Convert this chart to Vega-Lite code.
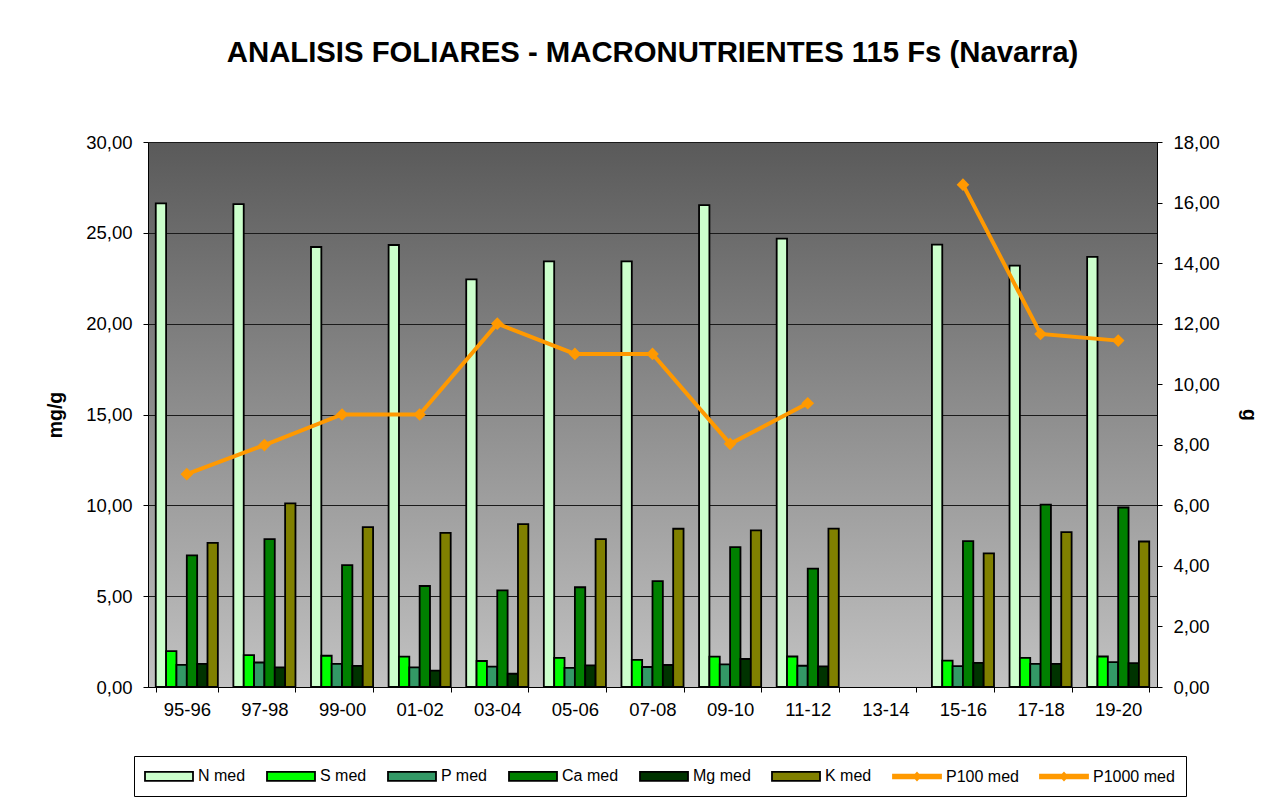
{
  "$schema": "https://vega.github.io/schema/vega-lite/v6.json",
  "width": 1009,
  "height": 545,
  "autosize": "none",
  "padding": {"left": 148, "top": 142, "right": 125, "bottom": 115},
  "background": "white",
  "title": {
    "text": "ANALISIS FOLIARES - MACRONUTRIENTES 115 Fs (Navarra)",
    "fontSize": 29.3,
    "fontWeight": "bold",
    "font": "Liberation Sans",
    "color": "black",
    "anchor": "middle",
    "baseline": "alphabetic",
    "offset": 42
  },
  "datasets": {
    "bars": [
      {"t": "95-96", "s": "N med", "v": 26.62}, {"t": "95-96", "s": "S med", "v": 1.97}, {"t": "95-96", "s": "P med", "v": 1.22}, {"t": "95-96", "s": "Ca med", "v": 7.25}, {"t": "95-96", "s": "Mg med", "v": 1.27}, {"t": "95-96", "s": "K med", "v": 7.93},
      {"t": "97-98", "s": "N med", "v": 26.58}, {"t": "97-98", "s": "S med", "v": 1.76}, {"t": "97-98", "s": "P med", "v": 1.35}, {"t": "97-98", "s": "Ca med", "v": 8.14}, {"t": "97-98", "s": "Mg med", "v": 1.08}, {"t": "97-98", "s": "K med", "v": 10.11},
      {"t": "99-00", "s": "N med", "v": 24.22}, {"t": "99-00", "s": "S med", "v": 1.72}, {"t": "99-00", "s": "P med", "v": 1.27}, {"t": "99-00", "s": "Ca med", "v": 6.71}, {"t": "99-00", "s": "Mg med", "v": 1.16}, {"t": "99-00", "s": "K med", "v": 8.80},
      {"t": "01-02", "s": "N med", "v": 24.33}, {"t": "01-02", "s": "S med", "v": 1.67}, {"t": "01-02", "s": "P med", "v": 1.08}, {"t": "01-02", "s": "Ca med", "v": 5.56}, {"t": "01-02", "s": "Mg med", "v": 0.90}, {"t": "01-02", "s": "K med", "v": 8.48},
      {"t": "03-04", "s": "N med", "v": 22.44}, {"t": "03-04", "s": "S med", "v": 1.43}, {"t": "03-04", "s": "P med", "v": 1.12}, {"t": "03-04", "s": "Ca med", "v": 5.32}, {"t": "03-04", "s": "Mg med", "v": 0.73}, {"t": "03-04", "s": "K med", "v": 8.97},
      {"t": "05-06", "s": "N med", "v": 23.43}, {"t": "05-06", "s": "S med", "v": 1.60}, {"t": "05-06", "s": "P med", "v": 1.05}, {"t": "05-06", "s": "Ca med", "v": 5.49}, {"t": "05-06", "s": "Mg med", "v": 1.19}, {"t": "05-06", "s": "K med", "v": 8.14},
      {"t": "07-08", "s": "N med", "v": 23.43}, {"t": "07-08", "s": "S med", "v": 1.49}, {"t": "07-08", "s": "P med", "v": 1.10}, {"t": "07-08", "s": "Ca med", "v": 5.83}, {"t": "07-08", "s": "Mg med", "v": 1.21}, {"t": "07-08", "s": "K med", "v": 8.71},
      {"t": "09-10", "s": "N med", "v": 26.53}, {"t": "09-10", "s": "S med", "v": 1.67}, {"t": "09-10", "s": "P med", "v": 1.25}, {"t": "09-10", "s": "Ca med", "v": 7.70}, {"t": "09-10", "s": "Mg med", "v": 1.54}, {"t": "09-10", "s": "K med", "v": 8.62},
      {"t": "11-12", "s": "N med", "v": 24.68}, {"t": "11-12", "s": "S med", "v": 1.68}, {"t": "11-12", "s": "P med", "v": 1.17}, {"t": "11-12", "s": "Ca med", "v": 6.52}, {"t": "11-12", "s": "Mg med", "v": 1.14}, {"t": "11-12", "s": "K med", "v": 8.72},
      {"t": "15-16", "s": "N med", "v": 24.35}, {"t": "15-16", "s": "S med", "v": 1.45}, {"t": "15-16", "s": "P med", "v": 1.15}, {"t": "15-16", "s": "Ca med", "v": 8.03}, {"t": "15-16", "s": "Mg med", "v": 1.33}, {"t": "15-16", "s": "K med", "v": 7.36},
      {"t": "17-18", "s": "N med", "v": 23.19}, {"t": "17-18", "s": "S med", "v": 1.60}, {"t": "17-18", "s": "P med", "v": 1.27}, {"t": "17-18", "s": "Ca med", "v": 10.04}, {"t": "17-18", "s": "Mg med", "v": 1.27}, {"t": "17-18", "s": "K med", "v": 8.52},
      {"t": "19-20", "s": "N med", "v": 23.68}, {"t": "19-20", "s": "S med", "v": 1.68}, {"t": "19-20", "s": "P med", "v": 1.37}, {"t": "19-20", "s": "Ca med", "v": 9.88}, {"t": "19-20", "s": "Mg med", "v": 1.31}, {"t": "19-20", "s": "K med", "v": 8.01}
    ],
    "lines": [
      {"t": "95-96", "s": "P100 med", "v": 7.03},
      {"t": "97-98", "s": "P100 med", "v": 7.99},
      {"t": "99-00", "s": "P100 med", "v": 9.0},
      {"t": "01-02", "s": "P100 med", "v": 9.0},
      {"t": "03-04", "s": "P100 med", "v": 12.0},
      {"t": "05-06", "s": "P100 med", "v": 11.0},
      {"t": "07-08", "s": "P100 med", "v": 11.0},
      {"t": "09-10", "s": "P100 med", "v": 8.03},
      {"t": "11-12", "s": "P100 med", "v": 9.37},
      {"t": "15-16", "s": "P1000 med", "v": 16.59},
      {"t": "17-18", "s": "P1000 med", "v": 11.66},
      {"t": "19-20", "s": "P1000 med", "v": 11.44}
    ]
  },
  "layer": [
    {
      "data": {"name": "bars"},
      "mark": {"type": "bar", "stroke": "#000000", "strokeWidth": 1.8, "strokeOpacity": 1, "strokeJoin": "miter"},
      "encoding": {
        "x": {
          "field": "t", "type": "nominal", "title": null,
          "scale": {"domain": ["95-96", "97-98", "99-00", "01-02", "03-04", "05-06", "07-08", "09-10", "11-12", "13-14", "15-16", "17-18", "19-20"], "paddingInner": 0.2, "paddingOuter": 0.1},
          "axis": {"tickBand": "extent", "labelAngle": 0, "labelFontSize": 18.5, "labelColor": "black", "tickColor": "black", "domainColor": "black", "tickSize": 5, "labelPadding": 8, "grid": false}
        },
        "xOffset": {"field": "s", "type": "nominal", "scale": {"domain": ["N med", "S med", "P med", "Ca med", "Mg med", "K med"]}},
        "y": {
          "field": "v", "type": "quantitative", "title": "mg/g",
          "scale": {"domain": [0, 30]},
          "axis": {"values": [0, 5, 10, 15, 20, 25, 30], "format": ".2f", "grid": true, "gridColor": "#1a1a1a", "gridWidth": 1, "tickSize": 5, "tickColor": "black", "domainColor": "black", "labelPadding": 11, "labelFontSize": 18.5, "labelColor": "black", "titleFontSize": 19.5, "titleFontWeight": "bold", "titleColor": "black", "titlePadding": 20}
        },
        "fill": {
          "field": "s", "type": "nominal", "title": null,
          "scale": {"domain": ["N med", "S med", "P med", "Ca med", "Mg med", "K med", "P100 med", "P1000 med"], "range": ["#CCFFCC", "#00FF00", "#339966", "#008000", "#003300", "#808000", "#FF9900", "#FF9900"]},
          "legend": {
            "orient": "none", "legendX": -14, "legendY": 614, "direction": "horizontal", "columns": 8,
            "padding": 11, "strokeColor": "black", "fillColor": "white",
            "labelFontSize": 16, "labelColor": "black", "columnPadding": 17,
            "symbolSize": 256, "symbolType": "M-1.125,-0.5625H4.875V0.5625H-1.125Z", "labelOffset": 35,
            "symbolStrokeColor": "black", "symbolStrokeWidth": 1.8,
            "encode": {
              "symbols": {
                "update": {
                  "shape": [
                    {"test": "datum.value == 'P100 med' || datum.value == 'P1000 med'", "value": "M-1.125,-0.22H4.875V0.22H-1.125Z M1.875,-0.45L2.3,0L1.875,0.45L1.45,0Z"},
                    {"value": "M-1.125,-0.5625H4.875V0.5625H-1.125Z"}
                  ],
                  "stroke": [
                    {"test": "datum.value == 'P100 med' || datum.value == 'P1000 med'", "value": "#FF9900"},
                    {"value": "#000000"}
                  ],
                  "fill": {"scale": "fill", "field": "value"},
                  "opacity": {"value": 1},
                  "fillOpacity": {"value": 1},
                  "strokeOpacity": {"value": 1},
                  "strokeWidth": {"value": 1.8}
                }
              }
            }
          }
        }
      }
    },
    {
      "data": {"name": "lines"},
      "mark": {"type": "line", "strokeWidth": 4, "color": "#FF9900", "point": {"shape": "diamond", "size": 160, "filled": true, "opacity": 1, "color": "#FF9900"}},
      "encoding": {
        "x": {"field": "t", "type": "nominal"},
        "y": {
          "field": "v", "type": "quantitative", "title": "g",
          "scale": {"domain": [0, 18]},
          "axis": {"orient": "right", "values": [0, 2, 4, 6, 8, 10, 12, 14, 16, 18], "format": ".2f", "grid": false, "tickSize": 5, "tickColor": "black", "domainColor": "black", "labelPadding": 11, "labelFontSize": 18.5, "labelColor": "black", "titleFontSize": 19.5, "titleFontWeight": "bold", "titleColor": "black", "titlePadding": 19}
        },
        "detail": {"field": "s", "type": "nominal"}
      }
    }
  ],
  "resolve": {"scale": {"y": "independent"}},
  "config": {
    "font": "Liberation Sans",
    "locale": {"number": {"decimal": ",", "thousands": ".", "grouping": [3], "currency": ["", " €"]}},
    "view": {
      "stroke": "#888888",
      "strokeWidth": 1,
      "fill": {"gradient": "linear", "x1": 0, "y1": 0, "x2": 0, "y2": 1, "stops": [{"offset": 0, "color": "#5a5a5a"}, {"offset": 1, "color": "#c2c2c2"}]}
    }
  }
}
